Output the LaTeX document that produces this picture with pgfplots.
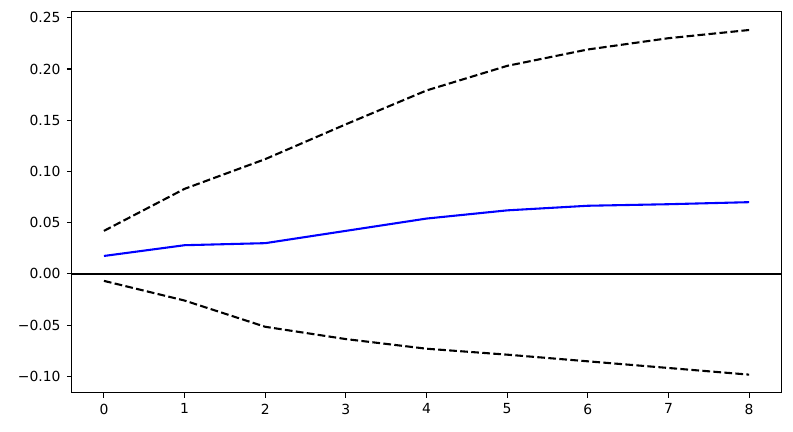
\documentclass[border=0pt]{standalone}
\usepackage{fontspec}
\setmainfont{DejaVu Sans}
\usepackage{pgfplots}
\pgfplotsset{compat=1.18}

\begin{document}
\fontsize{10pt}{12pt}\selectfont
\begin{tikzpicture}
\useasboundingbox (-51.6pt,-27.6pt) rectangle (519.3pt,282.7pt);
\begin{axis}[
    at={(0,0)}, anchor=south west,
    scale only axis,
    width=510.9pt,
    height=274.3pt,
    xmin=-0.4, xmax=8.4,
    ymin=-0.1159, ymax=0.2559,
    xtick={0,1,2,3,4,5,6,7,8},
    ytick={-0.10,-0.05,0,0.05,0.10,0.15,0.20,0.25},
    yticklabels={−0.10,−0.05,0.00,0.05,0.10,0.15,0.20,0.25},
    /pgf/number format/assume math mode=true,
    tick align=outside,
    tick pos=left,
    major tick length=3.5pt,
    every tick/.style={black, line width=0.8pt},
    axis line style={line width=0.8pt},
    tick label style={font=\fontsize{10pt}{12pt}\selectfont},
    xticklabel style={yshift=-1pt},
    yticklabel style={xshift=-1pt},
    ]
\addplot[black, line width=1.5pt, dash pattern=on 5.55pt off 2.4pt]
    coordinates {
    (0,0.042)(1,0.083)(2,0.112)(3,0.146)(4,0.179)(5,0.203)(6,0.219)(7,0.230)(8,0.238)
    };
\addplot[blue, line width=1.5pt]
    coordinates {
    (0,0.0175)(1,0.028)(2,0.030)(3,0.042)(4,0.054)(5,0.062)(6,0.0665)(7,0.068)(8,0.070)
    };
\addplot[black, line width=1.5pt, dash pattern=on 5.55pt off 2.4pt]
    coordinates {
    (0,-0.0068)(1,-0.026)(2,-0.0516)(3,-0.0636)(4,-0.073)(5,-0.0788)(6,-0.0853)(7,-0.0918)(8,-0.0983)
    };
\addplot[black, line width=1.5pt] coordinates {(-0.4,0)(8.4,0)};
\end{axis}
\end{tikzpicture}
\end{document}
